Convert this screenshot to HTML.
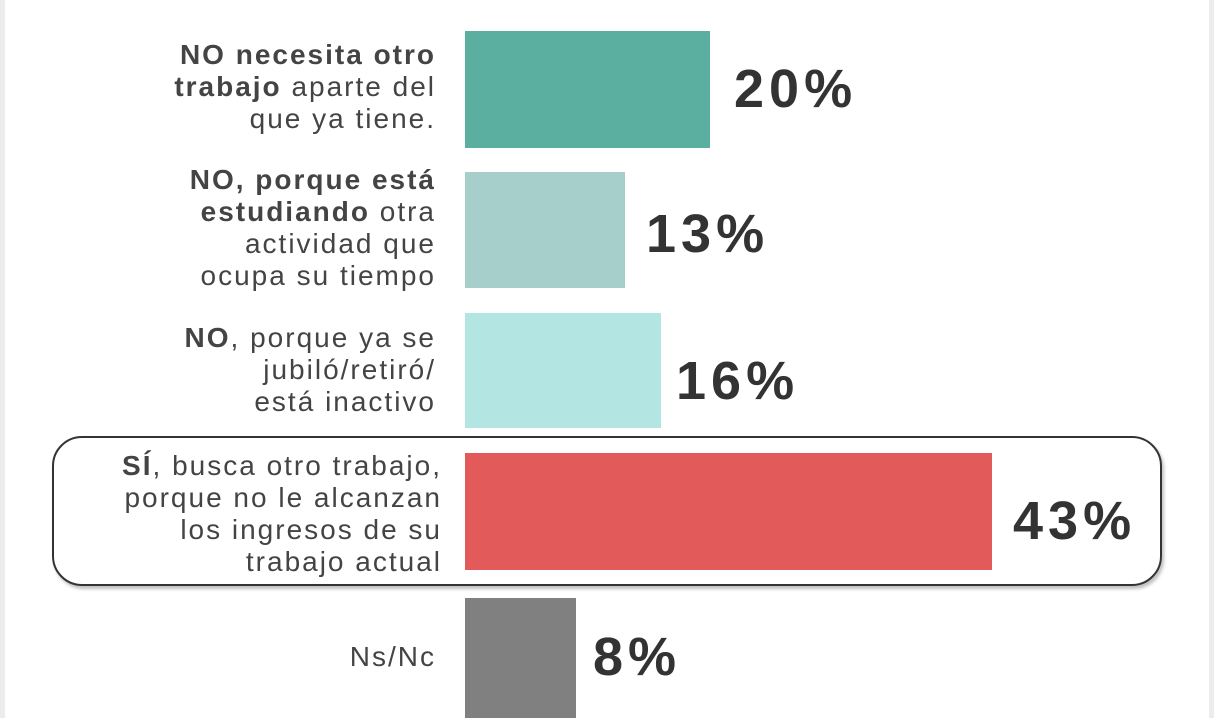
<!DOCTYPE html>
<html><head><meta charset="utf-8"><style>
body{margin:0;width:1214px;height:718px;background:#fff;position:relative;overflow:hidden;font-family:"Liberation Sans",sans-serif;color:#444}
.edge{position:absolute;top:0;bottom:0;width:5px;background:#ececec}
.bar{position:absolute;left:465px}
.lab{position:absolute;right:778px;text-align:right;font-size:28px;line-height:32px;letter-spacing:2px;white-space:nowrap}
.lab b{font-weight:bold}
.pct{position:absolute;font-size:54px;font-weight:bold;letter-spacing:5px;color:#333;line-height:54px}
.box{position:absolute;left:52px;top:436px;width:1106px;height:146px;border:2px solid #333;border-radius:30px;box-shadow:2px 3px 3px rgba(0,0,0,.25)}
</style></head><body>
<div class="edge" style="left:0"></div><div class="edge" style="right:0"></div>
<div class="box"></div>
<div class="bar" style="top:31px;width:245px;height:117px;background:#5aafa0"></div>
<div class="bar" style="top:172px;width:160px;height:116px;background:#a6cfcb"></div>
<div class="bar" style="top:313px;width:196px;height:115px;background:#b3e6e3"></div>
<div class="bar" style="top:453px;width:527px;height:117px;background:#e35a5a"></div>
<div class="bar" style="top:598px;width:111px;height:120px;background:#808080"></div>
<div class="lab" style="top:39px"><b>NO necesita otro</b><br><b>trabajo</b> aparte del<br>que ya tiene.</div>
<div class="lab" style="top:164px"><b>NO, porque está</b><br><b>estudiando</b> otra<br>actividad que<br>ocupa su tiempo</div>
<div class="lab" style="top:322px"><b>NO</b>, porque ya se<br>jubiló/retiró/<br>está inactivo</div>
<div class="lab" style="top:450px;right:772px"><b>SÍ</b>, busca otro trabajo,<br>porque no le alcanzan<br>los ingresos de su<br>trabajo actual</div>
<div class="lab" style="top:641px">Ns/Nc</div>
<div class="pct" style="left:734px;top:62px">20%</div>
<div class="pct" style="left:646px;top:207px">13%</div>
<div class="pct" style="left:676px;top:354px">16%</div>
<div class="pct" style="left:1013px;top:494px">43%</div>
<div class="pct" style="left:593px;top:630px">8%</div>
</body></html>
